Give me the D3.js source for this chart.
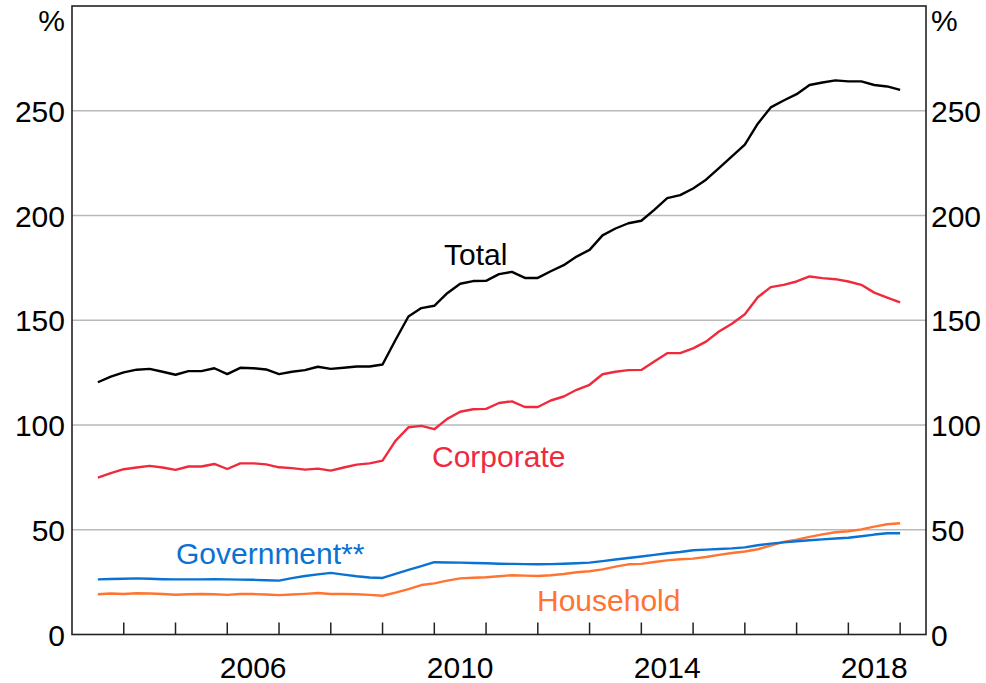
<!DOCTYPE html>
<html>
<head>
<meta charset="utf-8">
<script src="https://cdn.jsdelivr.net/npm/d3@7"></script>
<style>
  body { margin: 0; background: #fff; }
  svg text { font-family: "Liberation Sans", Arial, sans-serif; }
</style>
</head>
<body>
<div id="chart"></div>
<script>
// Quarterly, June 2003 to December 2018 (plotted at quarter end, decimal years)
const firstQuarterEnd = 2003.5;
const quarterCount = 63;
const quarters = d3.range(quarterCount).map(i => firstQuarterEnd + i * 0.25);

// Series values, per cent
const total = [
  120.4, 123.1, 125.1, 126.4, 126.8, 125.4, 124.0, 125.7, 125.7, 127.1,
  124.3, 127.3, 127.1, 126.5, 124.3, 125.4, 126.2, 127.8, 126.8, 127.3,
  127.9, 127.9, 128.9, 140.6, 151.8, 155.8, 156.9, 162.9, 167.4, 168.7,
  168.8, 172.0, 173.1, 170.2, 170.2, 173.4, 176.3, 180.4, 183.6, 190.5,
  193.8, 196.3, 197.5, 202.7, 208.3, 209.7, 212.9, 217.1, 222.6, 228.2,
  233.8, 243.8, 251.6, 254.9, 257.9, 262.3, 263.5, 264.5, 264.0, 264.0,
  262.3, 261.6, 260.0
];
const corporate = [
  74.9, 77.0, 78.9, 79.7, 80.5, 79.7, 78.6, 80.2, 80.2, 81.4,
  79.0, 81.7, 81.7, 81.2, 79.8, 79.4, 78.7, 79.2, 78.2, 79.7,
  81.1, 81.7, 83.0, 92.4, 98.9, 99.6, 98.0, 102.9, 106.3, 107.5,
  107.7, 110.5, 111.3, 108.6, 108.6, 111.7, 113.6, 116.8, 119.2, 124.2,
  125.4, 126.2, 126.3, 130.3, 134.3, 134.3, 136.6, 139.8, 144.6, 148.3,
  152.9, 161.0, 165.8, 166.9, 168.5, 170.9, 170.1, 169.6, 168.5, 166.9,
  163.2, 160.8, 158.5
];
const government = [
  26.3, 26.5, 26.6, 26.8, 26.6, 26.4, 26.3, 26.3, 26.3, 26.4,
  26.3, 26.2, 26.1, 25.9, 25.7, 26.9, 27.9, 28.7, 29.4, 28.6,
  27.8, 27.2, 27.0, 28.9, 30.8, 32.6, 34.5, 34.4, 34.3, 34.1,
  34.0, 33.8, 33.7, 33.6, 33.5, 33.6, 33.8, 34.0, 34.3, 35.0,
  35.8, 36.5, 37.2, 38.0, 38.8, 39.4, 40.2, 40.5, 40.8, 41.1,
  41.6, 42.6, 43.4, 44.0, 44.5, 45.0, 45.4, 45.8, 46.2, 46.9,
  47.7, 48.3, 48.3
];
const household = [
  19.2, 19.6, 19.3, 19.7, 19.6, 19.3, 19.0, 19.2, 19.3, 19.2,
  18.9, 19.3, 19.3, 19.1, 18.8, 19.1, 19.4, 19.8, 19.3, 19.3,
  19.2, 18.9, 18.5, 20.0, 21.7, 23.6, 24.4, 25.7, 26.8, 27.1,
  27.3, 27.8, 28.3, 28.1, 27.9, 28.3, 28.9, 29.7, 30.2, 31.1,
  32.4, 33.5, 33.7, 34.6, 35.4, 35.9, 36.2, 37.0, 38.0, 38.9,
  39.6, 40.7, 42.4, 44.2, 45.3, 46.6, 47.8, 48.8, 49.3, 50.2,
  51.5, 52.6, 53.1
];

// Axis ticks and labels
const yTicks = [0, 50, 100, 150, 200, 250];
const yearTicks = d3.range(2004, 2020);
const yearLabels = [2006, 2010, 2014, 2018];

const width = 986, height = 683;
const plotLeft = 72, plotRight = 926, plotTop = 6, plotBottom = 634.5;

const svg = d3.select("#chart")
  .append("svg")
  .attr("width", width)
  .attr("height", height);

const x = d3.scaleLinear().domain([2003, 2019.5]).range([plotLeft, plotRight]);
const y = d3.scaleLinear().domain([0, 300]).range([plotBottom, plotTop]);

// gridlines
svg.append("g")
  .selectAll("line")
  .data(yTicks.filter(d => d > 0))
  .enter()
  .append("line")
  .attr("x1", plotLeft).attr("x2", plotRight)
  .attr("y1", d => y(d)).attr("y2", d => y(d))
  .attr("stroke", "#b9b9b9")
  .attr("stroke-width", 1.4);

// y labels, both sides
const yLab = svg.append("g").attr("font-size", 30).attr("fill", "#000");
yLab.selectAll(".yl")
  .data(yTicks)
  .enter()
  .append("text")
  .attr("class", "yl")
  .attr("x", plotLeft - 7)
  .attr("y", d => y(d) + 11)
  .attr("text-anchor", "end")
  .text(d => d);
yLab.selectAll(".yr")
  .data(yTicks)
  .enter()
  .append("text")
  .attr("class", "yr")
  .attr("x", plotRight + 5)
  .attr("y", d => y(d) + 11)
  .text(d => d);
yLab.append("text").attr("x", plotLeft - 7).attr("y", 31).attr("text-anchor", "end").text("%");
yLab.append("text").attr("x", plotRight + 5).attr("y", 31).text("%");

// x ticks (inside, upward)
svg.append("g")
  .selectAll("line")
  .data(yearTicks)
  .enter()
  .append("line")
  .attr("x1", d => x(d)).attr("x2", d => x(d))
  .attr("y1", plotBottom).attr("y2", plotBottom - 12)
  .attr("stroke", "#222")
  .attr("stroke-width", 1.5);

svg.append("g")
  .attr("font-size", 30)
  .selectAll("text")
  .data(yearLabels)
  .enter()
  .append("text")
  .attr("x", d => x(d + 0.5))
  .attr("y", 678)
  .attr("text-anchor", "middle")
  .text(d => d);

// frame
svg.append("rect")
  .attr("x", plotLeft).attr("y", plotTop)
  .attr("width", plotRight - plotLeft).attr("height", plotBottom - plotTop)
  .attr("fill", "none")
  .attr("stroke", "#222")
  .attr("stroke-width", 1.6);

// series
const series = [
  { name: "Total", values: total, color: "#000000", lx: 444, ly: 265 },
  { name: "Corporate", values: corporate, color: "#f02a3d", lx: 432, ly: 467 },
  { name: "Government**", values: government, color: "#0a72d2", lx: 176, ly: 564 },
  { name: "Household", values: household, color: "#ff7430", lx: 537, ly: 611 }
];

const line = d3.line()
  .x((d, i) => x(quarters[i]))
  .y(d => y(d));

// draw bottom-most first so the total sits on top
series.slice().reverse().forEach(function (s) {
  svg.append("path")
    .datum(s.values)
    .attr("d", line)
    .attr("fill", "none")
    .attr("stroke", s.color)
    .attr("stroke-width", 2.4)
    .attr("stroke-linejoin", "round");
});

svg.append("g")
  .attr("font-size", 30)
  .selectAll("text")
  .data(series)
  .enter()
  .append("text")
  .attr("x", d => d.lx)
  .attr("y", d => d.ly)
  .attr("fill", d => d.color)
  .text(d => d.name);
</script>
</body>
</html>
